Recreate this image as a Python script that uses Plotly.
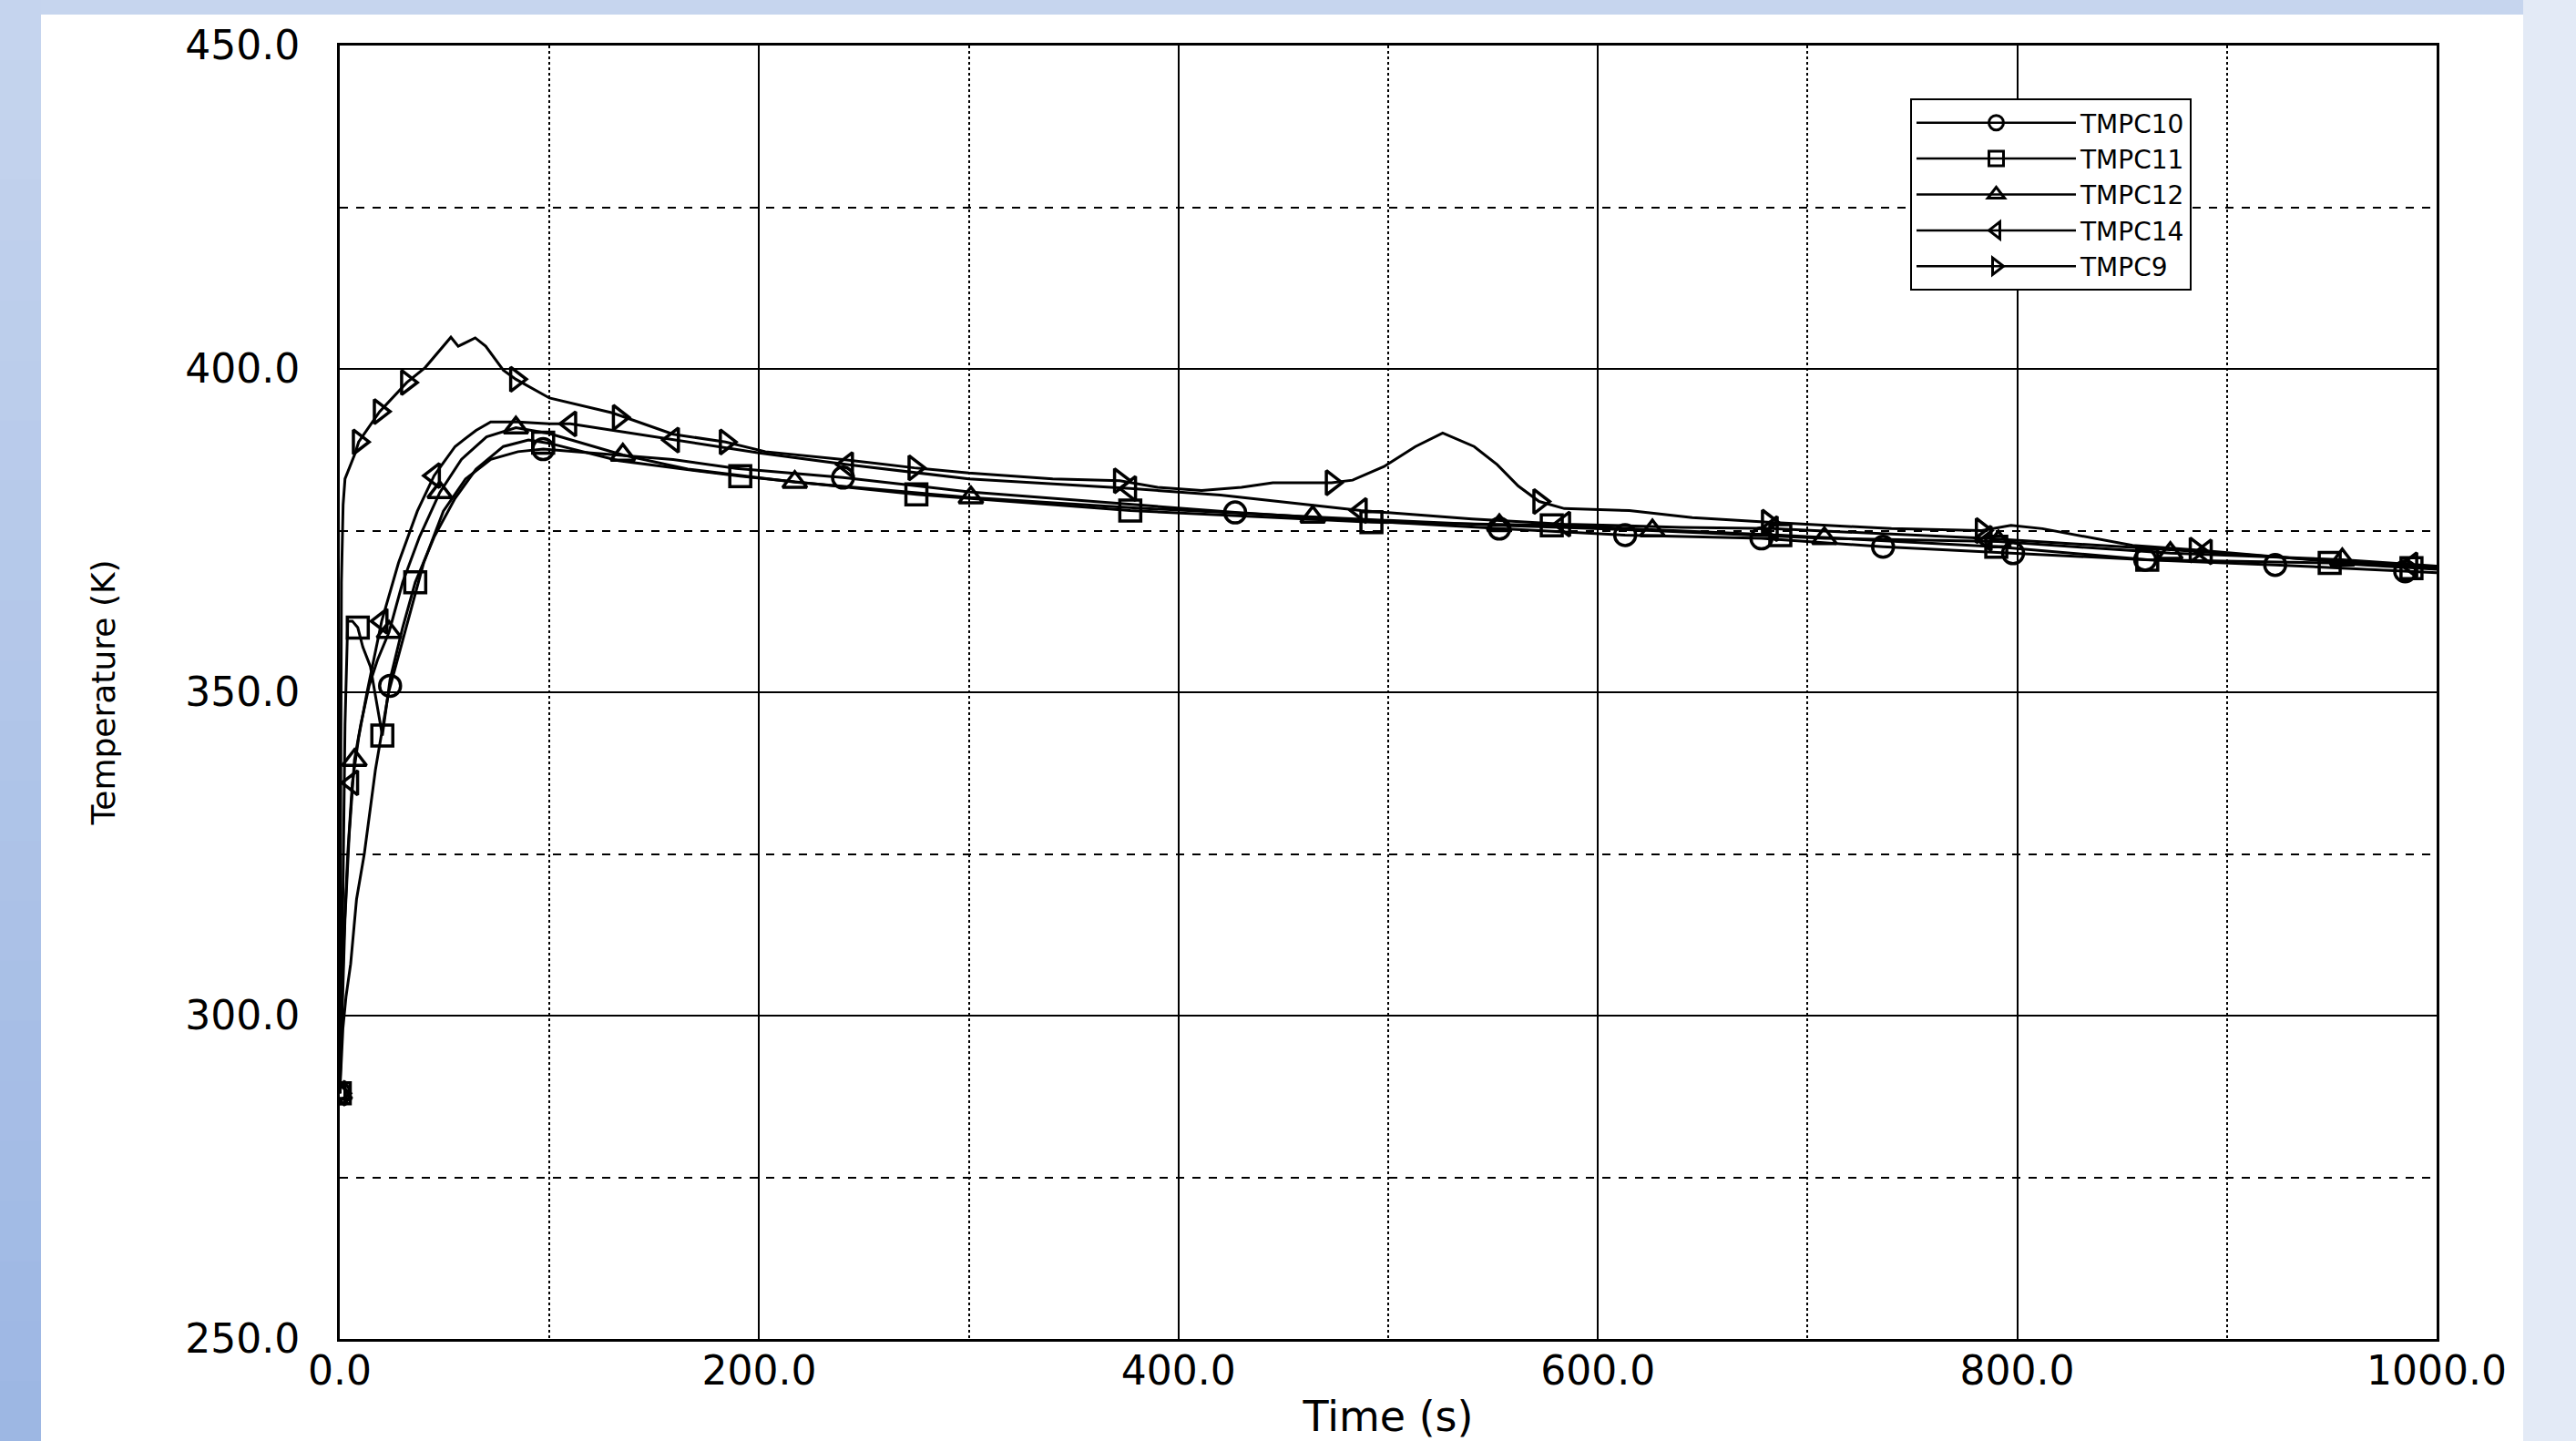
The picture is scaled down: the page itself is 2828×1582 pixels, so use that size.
import plotly.graph_objects as go

# ---------------- data ----------------
series_names = ["TMPC10", "TMPC11", "TMPC12", "TMPC14", "TMPC9"]

t10 = [0, 0.5, 1.5, 3, 5.2, 8, 11.7, 17, 23.3, 30, 40, 49.4, 60, 72, 85, 97, 120, 159, 189, 240, 300, 360, 427, 490, 553, 613, 678, 736, 798, 861, 923, 985, 1000]
T10 = [288, 292, 298, 303, 308, 318, 325, 338, 350, 358, 370, 378, 383, 386, 387.2, 387.6, 387, 386, 384.6, 383.2, 381, 379.5, 377.8, 376.5, 375.3, 374.3, 373.8, 372.5, 371.5, 370.5, 369.7, 368.7, 368.5]
mt10 = [0, 24, 97, 240, 427, 553, 613, 678, 736, 798, 861, 923, 985]
mT10 = [288, 351, 387.6, 383.2, 377.8, 375.3, 374.3, 373.8, 372.5, 371.5, 370.5, 369.7, 368.7]

t11 = [0, 1, 2.5, 3.8, 6, 8.6, 11, 14.6, 20.3, 24, 30, 36, 45, 55, 65, 78, 90, 100, 133, 191, 275, 377, 492, 578, 687, 790, 862, 949, 1000]
T11 = [288, 305, 345, 361, 361, 360, 357, 354, 343.3, 352, 360, 367, 374, 380, 384.5, 388, 389, 388.5, 385.8, 383.4, 380.6, 378.1, 376.3, 375.8, 374.3, 372.5, 370.5, 370, 369]
mt11 = [0, 8.6, 20.3, 36, 97, 191, 275, 377, 492, 578, 687, 790, 862, 949, 988]
mT11 = [288, 360, 343.3, 367, 388.6, 383.4, 380.6, 378.1, 376.3, 375.8, 374.3, 372.5, 370.5, 370, 369.2]

t12 = [0, 1, 2.5, 4.5, 7, 10, 14, 18, 23.5, 30, 38, 47.7, 58, 70, 84, 100, 135, 166, 217, 301, 380, 464, 553, 626, 708, 791, 873, 955, 1000]
T12 = [288, 298, 315, 328, 339.5, 345, 351, 355, 359.3, 367, 374, 380.9, 386, 389.5, 390.9, 390, 386.7, 384.5, 382.5, 380.1, 378.5, 377.1, 375.8, 375, 373.8, 373.3, 371.5, 370.5, 369.5]
mt12 = [0, 7, 23.5, 47.7, 84, 135, 217, 301, 464, 553, 626, 708, 791, 873, 955]
mT12 = [288, 339.5, 359.3, 380.9, 390.9, 386.7, 382.5, 380.1, 377.1, 375.8, 375, 373.8, 373.3, 371.5, 370.5]

t14 = [0, 0.8, 2, 3.8, 6, 9, 13, 20, 28, 37, 45, 55, 65, 72, 85, 100, 110, 159, 200, 242, 300, 377, 420, 487, 540, 584, 640, 683, 785, 890, 950, 1000]
T14 = [288, 300, 312, 325, 336, 343, 350, 361, 370, 378, 383.5, 388, 390.5, 391.8, 391.8, 391.5, 391.5, 389, 387, 385.2, 383, 381.5, 380.5, 378.1, 376.8, 376, 375.5, 375.3, 373.8, 371.7, 370.3, 369.3]
mt14 = [0, 6, 20, 45, 110, 159, 242, 377, 487, 584, 683, 785, 890, 988]
mT14 = [288, 336, 361, 383.5, 391.5, 389, 385.2, 381.5, 378.1, 376, 375.3, 373.8, 371.7, 369.7]

t9 = [0, 0.8, 1.6, 2.5, 7.4, 9, 19, 32, 40.7, 53, 56.5, 64.6, 69.6, 78, 84, 100, 130, 159, 184, 203, 240, 274, 300, 340, 372, 390, 411, 430, 445, 473, 483, 498, 513, 526, 541, 552, 562, 572, 584, 615, 645, 681, 740, 783, 797, 812, 855, 885, 940, 1000]
T9 = [288, 367, 379, 383, 387, 388.7, 393.4, 397.9, 400.2, 404.9, 403.5, 404.8, 403.5, 399.8, 398.4, 395.5, 393.2, 389.9, 388.7, 387.2, 386, 384.7, 383.9, 383, 382.7, 381.7, 381.2, 381.7, 382.4, 382.4, 382.8, 384.9, 388, 390.1, 388, 385.2, 381.9, 379.5, 378.4, 378.1, 377, 376.3, 375.3, 375, 375.8, 375.3, 372.7, 372, 370.5, 369.4]
mt9 = [0, 9, 19, 32, 84, 133, 184, 274, 372, 473, 572, 681, 783, 885]
mT9 = [288, 388.7, 393.4, 397.9, 398.4, 392.5, 388.7, 384.7, 382.7, 382.4, 379.5, 376.3, 375, 372]

lines_t = [t10, t11, t12, t14, t9]
lines_T = [T10, T11, T12, T14, T9]
marks_t = [mt10, mt11, mt12, mt14, mt9]
marks_T = [mT10, mT11, mT12, mT14, mT9]
symbols = ["circle-open", "square-open", "triangle-up-open", "triangle-left-open", "triangle-right-open"]

x_tickvals = [0, 200, 400, 600, 800, 1000]
y_tickvals = [250, 300, 350, 400, 450]

# ---------------- figure ----------------
W, H = 2828, 1582
L, R, T, B = 373, 2675, 50, 1470
FONT = "DejaVu Sans, Liberation Sans, Arial, sans-serif"


def px(X):
    return (X - L) / (R - L)


def py(Y):
    return (B - Y) / (B - T)


fig = go.Figure()

for name, xs, ys, mx, my, sym in zip(series_names, lines_t, lines_T, marks_t, marks_T, symbols):
    fig.add_trace(go.Scatter(x=xs, y=ys, mode="lines", line=dict(color="black", width=3),
                             showlegend=False, legendgroup=name, hoverinfo="skip"))
    fig.add_trace(go.Scatter(x=mx, y=my, mode="markers", showlegend=False, legendgroup=name,
                             marker=dict(symbol=sym, size=23, color="black", line=dict(width=3.5, color="black"))))
    fig.add_trace(go.Scatter(x=[None], y=[None], mode="lines+markers", name=name, legendgroup=name,
                             line=dict(color="black", width=2.5),
                             marker=dict(symbol=sym, size=16, color="black", line=dict(width=3, color="black"))))

shapes = []
# white slide panel
shapes.append(dict(type="rect", xref="paper", yref="paper", layer="below",
                   x0=px(45), x1=px(2770), y0=py(1620), y1=py(16),
                   fillcolor="white", line=dict(width=0)))
# right light strip
shapes.append(dict(type="rect", xref="paper", yref="paper", layer="below",
                   x0=px(2770), x1=px(2840), y0=py(1620), y1=py(-10),
                   fillcolor="#e3eaf6", line=dict(width=0)))
# left gradient strip (vertical gradient in bands)
nb = 24
c_top = (0xc6, 0xd5, 0xee)
c_bot = (0x9c, 0xb6, 0xe3)
for i in range(nb):
    f = (i + 0.5) / nb
    c = tuple(int(round(a + (b - a) * f)) for a, b in zip(c_top, c_bot))
    y0 = i * H / nb
    y1 = (i + 1) * H / nb + (40 if i == nb - 1 else 1)
    shapes.append(dict(type="rect", xref="paper", yref="paper", layer="below",
                       x0=px(-10), x1=px(45), y0=py(y1), y1=py(y0 - (10 if i == 0 else 0)),
                       fillcolor="rgb(%d,%d,%d)" % c, line=dict(width=0)))

fig.update_layout(
    width=W, height=H,
    margin=dict(l=L, r=W - R, t=T, b=H - B, pad=0, autoexpand=False),
    paper_bgcolor="#c6d5ee",
    plot_bgcolor="white",
    font=dict(family=FONT, color="black", size=44),
    shapes=shapes,
    showlegend=True,
    legend=dict(x=px(2097), y=py(108), xanchor="left", yanchor="top",
                bgcolor="white", bordercolor="black", borderwidth=2,
                font=dict(family=FONT, size=28, color="black"),
                itemwidth=175, tracegroupgap=0, traceorder="normal",
                itemclick=False),
    xaxis=dict(range=[0, 1000], tickvals=x_tickvals, tickformat=".1f", automargin=False,
               showline=True, mirror=True, linecolor="black", linewidth=3,
               showgrid=True, gridcolor="black", gridwidth=2,
               zeroline=False, ticks="", ticklabelstandoff=-6,
               tickfont=dict(size=44),
               minor=dict(dtick=100, tick0=0, showgrid=True, gridcolor="black", gridwidth=2, griddash="dot"),
               title=dict(text="Time (s)", font=dict(size=46), standoff=20)),
    yaxis=dict(range=[250, 450], tickvals=y_tickvals, tickformat=".1f", automargin=False,
               showline=True, mirror=True, linecolor="black", linewidth=3,
               showgrid=True, gridcolor="black", gridwidth=2,
               zeroline=False, ticks="", ticklabelstandoff=32,
               tickfont=dict(size=44),
               minor=dict(dtick=25, tick0=250, showgrid=True, gridcolor="black", gridwidth=2, griddash="dash"),
               title=dict(text="Temperature (K)", font=dict(size=36), standoff=66)),
)

fig.write_html("out.html")
